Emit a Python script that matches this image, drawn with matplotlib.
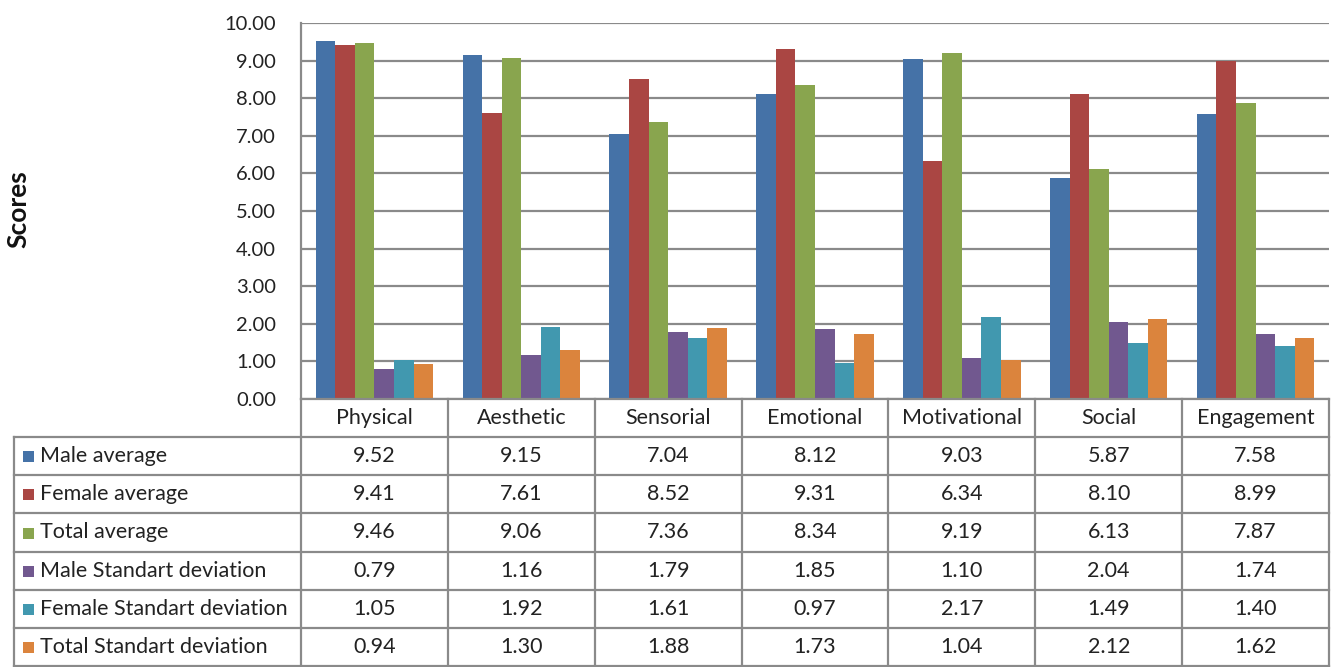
import matplotlib
matplotlib.use("Agg")
import matplotlib.pyplot as plt
import numpy as np
from matplotlib.patches import Rectangle

categories = ["Physical", "Aesthetic", "Sensorial", "Emotional", "Motivational", "Social", "Engagement"]
series_names = ["Male average", "Female average", "Total average",
                "Male Standart deviation", "Female Standart deviation", "Total Standart deviation"]
male_avg = [9.52, 9.15, 7.04, 8.12, 9.03, 5.87, 7.58]
female_avg = [9.41, 7.61, 8.52, 9.31, 6.34, 8.10, 8.99]
total_avg = [9.46, 9.06, 7.36, 8.34, 9.19, 6.13, 7.87]
male_sd = [0.79, 1.16, 1.79, 1.85, 1.10, 2.04, 1.74]
female_sd = [1.05, 1.92, 1.61, 0.97, 2.17, 1.49, 1.40]
total_sd = [0.94, 1.30, 1.88, 1.73, 1.04, 2.12, 1.62]
series = [male_avg, female_avg, total_avg, male_sd, female_sd, total_sd]
colors = ["#4572A7", "#AA4643", "#89A54E", "#71588F", "#4198AF", "#DB843D"]
yticks = [0, 1, 2, 3, 4, 5, 6, 7, 8, 9, 10]

plt.rcParams['font.family'] = ['Lato', 'DejaVu Sans']

W, H = 1335, 667
fig = plt.figure(figsize=(W / 100, H / 100), dpi=100)

# plot area in pixel units
px_left, px_right, px_top, px_bottom = 301, 1329, 23, 399
ax = fig.add_axes([px_left / W, 1 - px_bottom / H, (px_right - px_left) / W, (px_bottom - px_top) / H])

n_cat = len(categories)
n_ser = len(series)
group_w = 0.8
bw = group_w / n_ser
x = np.arange(n_cat)
for i, (vals, c) in enumerate(zip(series, colors)):
    ax.bar(x - group_w / 2 + bw * (i + 0.5), vals, width=bw, color=c, zorder=3, linewidth=0)

ax.set_xlim(-0.5, n_cat - 0.5)
ax.set_ylim(0, 10)
ax.set_yticks(yticks)
ax.set_yticklabels([f"{v:.2f}" for v in yticks], fontsize=14.5, color="#222222")
ax.tick_params(axis="y", length=0, pad=18)
ax.set_xticks([])
ax.grid(axis="y", color="#8a8a8a", linewidth=1.6, zorder=0)
for s in ["top", "right", "bottom"]:
    ax.spines[s].set_visible(False)
ax.spines["left"].set_color("#8a8a8a")
ax.spines["left"].set_linewidth(1.6)

fig.text(18 / W, 1 - 209 / H, "Scores", rotation=90, ha="center", va="center",
         fontsize=19, fontweight="bold", color="#111111")

# data table below the plot area, drawn on a full-figure overlay in pixel units
tab = fig.add_axes([0, 0, 1, 1])
tab.set_xlim(0, W)
tab.set_ylim(H, 0)
tab.axis("off")

col_edges = np.linspace(px_left, px_right, n_cat + 1)
label_left = 14
header_top = px_bottom
row_h = (H - 1 - header_top) / (n_ser + 1)
row_edges = [header_top + row_h * k for k in range(n_ser + 2)]
lc = "#8a8a8a"
lw = 1.6

# horizontal lines
tab.plot([px_left, px_right], [row_edges[0], row_edges[0]], color=lc, lw=lw)
for k in range(1, n_ser + 2):
    tab.plot([label_left, px_right], [row_edges[k], row_edges[k]], color=lc, lw=lw)
# vertical lines
for xe in col_edges:
    tab.plot([xe, xe], [row_edges[0], row_edges[-1]], color=lc, lw=lw)
tab.plot([label_left, label_left], [row_edges[1], row_edges[-1]], color=lc, lw=lw)

fs = 15.5
for j, cat in enumerate(categories):
    cx = (col_edges[j] + col_edges[j + 1]) / 2
    tab.text(cx, (row_edges[0] + row_edges[1]) / 2, cat, ha="center", va="center",
             fontsize=fs, color="#222222")
for i, (name, vals, c) in enumerate(zip(series_names, series, colors)):
    cy = (row_edges[i + 1] + row_edges[i + 2]) / 2
    tab.add_patch(Rectangle((23, cy - 5), 11, 11, color=c, lw=0))
    tab.text(40, cy, name, ha="left", va="center", fontsize=fs, color="#222222")
    for j, v in enumerate(vals):
        cx = (col_edges[j] + col_edges[j + 1]) / 2
        tab.text(cx, cy, f"{v:.2f}", ha="center", va="center", fontsize=fs, color="#222222")

fig.savefig("out.png", dpi=100, facecolor="white")
